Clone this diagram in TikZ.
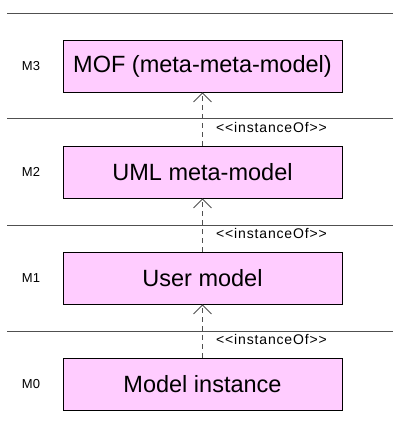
\documentclass[tikz,border=0pt]{standalone}
\usepackage{fontspec}
\setmainfont{Liberation Sans}
\newfontfamily\lblfont[LetterSpace=6]{Liberation Sans}
\usetikzlibrary{arrows.meta}
\definecolor{boxpink}{RGB}{255,204,255}
\definecolor{rulegray}{RGB}{80,80,80}
\tikzset{
  level/.style={draw=black, fill=boxpink, line width=0.8bp,
    minimum width=279bp, minimum height=52bp, inner sep=0pt,
    font=\fontsize{23.5bp}{26bp}\selectfont},
  tag/.style={font=\fontsize{13bp}{15bp}\selectfont, inner sep=0pt},
  stereo/.style={font=\lblfont\fontsize{14bp}{16bp}\selectfont, inner sep=0pt, anchor=west},
  sep/.style={draw=rulegray, line width=0.9bp},
  inst/.style={draw=rulegray, line width=0.8bp, dash pattern=on 5bp off 4bp,
    -{Straight Barb[length=9bp,width=18bp,line width=0.8bp]}}
}
\begin{document}
\begin{tikzpicture}[x=1bp,y=-1bp]
  \useasboundingbox (0,0) rectangle (393,431);

  % layer separators
  \coordinate (s0a) at (7,13);  \coordinate (s0b) at (393,13);
  \coordinate (s1a) at (7,118); \coordinate (s1b) at (393,118);
  \coordinate (s2a) at (7,225); \coordinate (s2b) at (393,225);
  \coordinate (s3a) at (7,331); \coordinate (s3b) at (393,331);
  \foreach \i in {0,...,3} \draw[sep] (s\i a) -- (s\i b);

  % metamodel layers
  \node[level] (mof)  at (202.5,66)  {MOF (meta-meta-model)};
  \node[level] (uml)  at (202.5,172) {UML meta-model};
  \node[level] (user) at (202.5,278) {User model};
  \node[level] (inst) at (202.5,384) {Model instance};

  % layer names
  \node[tag] (m3) at (31,66)  {M3};
  \node[tag] (m2) at (31,172) {M2};
  \node[tag] (m1) at (31,278) {M1};
  \node[tag] (m0) at (31,384) {M0};

  % instanceOf dependencies
  \draw[inst] (uml.north)  -- (mof.south);
  \draw[inst] (user.north) -- (uml.south);
  \draw[inst] (inst.north) -- (user.south);

  \node[stereo] (d1) at (216,127.5) {<<instanceOf>>};
  \node[stereo] (d2) at (216,233.5) {<<instanceOf>>};
  \node[stereo] (d3) at (216,339)   {<<instanceOf>>};
\end{tikzpicture}
\end{document}
